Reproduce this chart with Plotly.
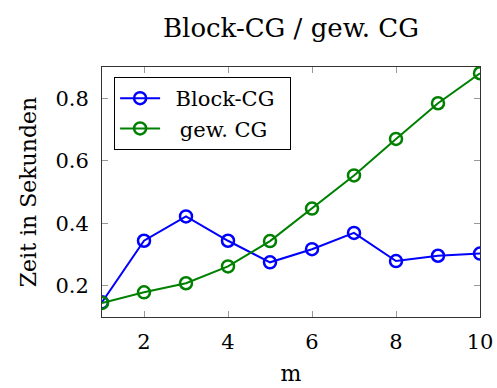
import plotly.graph_objects as go

m_values = [1, 2, 3, 4, 5, 6, 7, 8, 9, 10]
block_cg = [0.147, 0.344, 0.422, 0.344, 0.275, 0.317, 0.369, 0.279, 0.296, 0.303]
gew_cg = [0.145, 0.179, 0.208, 0.262, 0.343, 0.447, 0.553, 0.670, 0.784, 0.880]
x_ticks = [2, 4, 6, 8, 10]
y_ticks = [0.2, 0.4, 0.6, 0.8]

FONT = "DejaVu Serif"

fig = go.Figure()
fig.add_trace(go.Scatter(
    x=m_values, y=block_cg, name="\u2002Block-CG\u2002", mode="lines+markers",
    line=dict(color="#0000ff", width=2),
    marker=dict(symbol="circle-open", size=12, color="#0000ff", line=dict(width=2.5)),
))
fig.add_trace(go.Scatter(
    x=m_values, y=gew_cg, name="\u2002\u2009gew. CG", mode="lines+markers",
    line=dict(color="#008000", width=2),
    marker=dict(symbol="circle-open", size=12, color="#008000", line=dict(width=2.5)),
))

axis_common = dict(
    showline=True, linecolor="#333333", linewidth=1, mirror="ticks",
    ticks="inside", ticklen=6, tickcolor="#999999", tickwidth=1,
    showgrid=False, zeroline=False, automargin=False,
    tickfont=dict(family=FONT, size=21, color="black"),
)

fig.update_layout(
    width=497, height=388,
    margin=dict(l=102, r=17, t=67, b=71),
    paper_bgcolor="white", plot_bgcolor="white",
    font=dict(family=FONT, color="black"),
    title=dict(text="Block-CG / gew. CG", x=0.5855, xanchor="center",
               y=1 - 28 / 388, yanchor="middle",
               font=dict(family=FONT, size=26, color="black")),
    xaxis=dict(range=[1, 10], tickvals=x_ticks, ticklabelstandoff=6,
               title=dict(text="m", font=dict(family=FONT, size=22), standoff=12),
               **axis_common),
    yaxis=dict(range=[0.1, 0.9], tickvals=y_ticks, ticktext=["0.2", "0.4", "0.6", "0.8"],
               ticklabelstandoff=8,
               title=dict(text="Zeit in Sekunden", font=dict(family=FONT, size=22), standoff=12),
               **axis_common),
    legend=dict(x=0.032, y=0.96, xanchor="left", yanchor="top",
                bordercolor="black", borderwidth=1, bgcolor="white",
                font=dict(family=FONT, size=21, color="black"),
                tracegroupgap=0, itemwidth=40),
    showlegend=True,
)

fig.write_html("out.html")
